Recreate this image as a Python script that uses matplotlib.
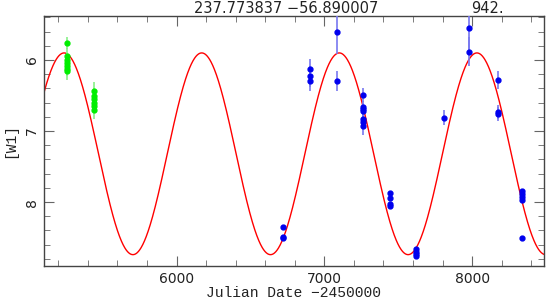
#!/usr/bin/env python3
"""
W1 light curve vs Julian Date with sinusoidal fit
"""

import numpy as np
import matplotlib.pyplot as plt
from matplotlib.ticker import MultipleLocator

# green group (older epoch)
green_jd = [5261, 5261, 5261, 5261, 5261, 5261, 5261,
            5442, 5442, 5442, 5442, 5442, 5442]
green_mag = [5.76, 5.95, 6.0, 6.04, 6.08, 6.12, 6.16,
             6.43, 6.50, 6.55, 6.60, 6.65, 6.71]
green_err = [0.08, 0.12, 0.1, 0.1, 0.1, 0.1, 0.12,
             0.12, 0.1, 0.1, 0.1, 0.1, 0.12]

# blue points
blue_jd = [6720, 6720, 6720,
           6900, 6902, 6900,
           7084, 7084,
           7260, 7260, 7260, 7260, 7260, 7260, 7260,
           7445, 7445, 7445, 7445,
           7618, 7618, 7618, 7618,
           7812,
           7977, 7977,
           8173, 8173, 8173,
           8336, 8336, 8336, 8336, 8336]
blue_mag = [8.35, 8.49, 8.51,
            6.13, 6.23, 6.29,
            5.61, 6.30,
            6.49, 6.66, 6.69, 6.72, 6.83, 6.87, 6.93,
            7.87, 7.94, 8.03, 8.06,
            8.66, 8.70, 8.73, 8.76,
            6.81,
            5.55, 5.88,
            6.28, 6.73, 6.76,
            7.85, 7.89, 7.93, 7.97, 8.50]
blue_err = [0.03, 0.03, 0.03,
            0.15, 0.15, 0.15,
            0.3, 0.14,
            0.1, 0.08, 0.08, 0.08, 0.1, 0.1, 0.12,
            0.03, 0.03, 0.03, 0.03,
            0.03, 0.03, 0.03, 0.03,
            0.1,
            0.35, 0.2,
            0.13, 0.1, 0.1,
            0.03, 0.03, 0.03, 0.03, 0.02]

# sinusoidal fit parameters
period = 931.0
jd_peak = 7101.0
mag_mean = 7.32
amplitude = 1.42

fig = plt.figure(figsize=(5.46, 3.0), dpi=100)
ax = fig.add_axes([0.0806, 0.1133, 0.9157, 0.8334])

jd_fit = np.linspace(5100, 8490, 1500)
mag_fit = mag_mean - amplitude * np.cos(2 * np.pi * (jd_fit - jd_peak) / period)
ax.plot(jd_fit, mag_fit, color='red', lw=1.0, zorder=2)

ax.errorbar(green_jd, green_mag, yerr=green_err, fmt='o', ms=3.5,
            color='#00ee00', ecolor='#88f088', elinewidth=1.2, capsize=0, zorder=3)
ax.errorbar(blue_jd, blue_mag, yerr=blue_err, fmt='o', ms=3.5,
            color='#0000ee', ecolor='#7878f0', elinewidth=1.2, capsize=0, zorder=3)

ax.set_xlim(5103, 8486)
ax.set_ylim(8.9, 5.38)

ax.xaxis.set_major_locator(MultipleLocator(1000))
ax.xaxis.set_minor_locator(MultipleLocator(200))
ax.yaxis.set_major_locator(MultipleLocator(1))
ax.yaxis.set_minor_locator(MultipleLocator(0.2))
ax.tick_params(which='both', direction='in', top=True, right=True, color='#666666')
ax.tick_params(which='major', length=7, labelsize=10, labelcolor='#222222')
ax.tick_params(axis='x', which='major', pad=4)
ax.tick_params(which='minor', length=4)
for lab in ax.get_yticklabels():
    lab.set_rotation(90)
    lab.set_va('center')
for sp in ax.spines.values():
    sp.set_color('#444444')
    sp.set_linewidth(1.0)

# axis labels
fig.text(0.538, 0.023, 'Julian Date \u22122450000', family='Liberation Mono',
         fontsize=10.5, ha='center', va='center', color='#222222')
ax.set_ylabel('[W1]', family='Liberation Mono', fontsize=10.5, labelpad=6, color='#222222')

# header
fig.text(0.524, 0.997, '237.773837 \u221256.890007', ha='center', va='top',
         fontsize=10.5, color='#222222')
fig.text(0.892, 0.997, '942.', ha='center', va='top', fontsize=10.5, color='#222222')

fig.savefig('out.png', dpi=100)
